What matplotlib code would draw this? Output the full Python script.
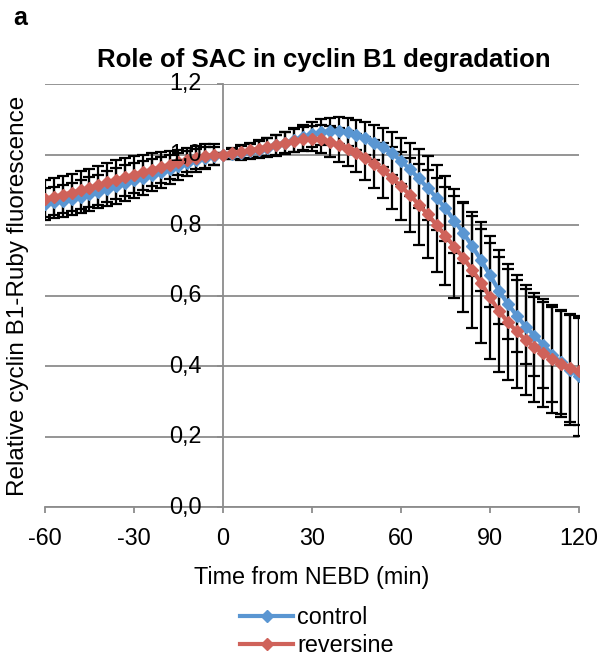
# -*- coding: utf-8 -*-
"""
Role of SAC in cyclin B1 degradation - relative cyclin B1-Ruby fluorescence.
"""
import matplotlib
matplotlib.use('Agg')
import matplotlib.pyplot as plt
import matplotlib.transforms as mtransforms

plt.rcParams['font.family'] = ['Liberation Sans', 'DejaVu Sans']

# time from NEBD (min), one point every 3 min
time_min = list(range(-60, 121, 3))

control = [
    0.860, 0.864, 0.868, 0.874, 0.880, 0.887, 0.895, 0.903, 0.911, 0.919,
    0.927, 0.934, 0.942, 0.950, 0.958, 0.966, 0.975, 0.983, 0.990, 0.996,
    1.000, 1.002, 1.005, 1.009, 1.014, 1.019, 1.026, 1.033, 1.041, 1.049,
    1.057, 1.063, 1.067, 1.067, 1.063, 1.056, 1.046, 1.034, 1.020, 1.003,
    0.982, 0.958, 0.932, 0.905, 0.877, 0.847, 0.812, 0.778, 0.740, 0.700,
    0.658, 0.614, 0.576, 0.543, 0.512, 0.485, 0.460, 0.432, 0.410, 0.390,
    0.372,
]
control_sd = [
    0.045, 0.045, 0.046, 0.046, 0.047, 0.048, 0.048, 0.049, 0.050, 0.050,
    0.049, 0.048, 0.046, 0.044, 0.041, 0.038, 0.036, 0.034, 0.032, 0.026,
    0.005, 0.015, 0.020, 0.022, 0.025, 0.027, 0.029, 0.031, 0.033, 0.035,
    0.036, 0.037, 0.037, 0.038, 0.040, 0.043, 0.047, 0.051, 0.055, 0.060,
    0.066, 0.075, 0.083, 0.090, 0.092, 0.093, 0.090, 0.087, 0.086, 0.088,
    0.092, 0.096, 0.099, 0.102, 0.106, 0.112, 0.122, 0.134, 0.146, 0.158,
    0.170,
]

reversine = [
    0.875, 0.880, 0.886, 0.892, 0.898, 0.905, 0.913, 0.921, 0.929, 0.936,
    0.943, 0.950, 0.957, 0.964, 0.971, 0.978, 0.985, 0.991, 0.996, 0.999,
    1.000, 1.003, 1.007, 1.012, 1.017, 1.022, 1.028, 1.034, 1.039, 1.043,
    1.045, 1.043, 1.036, 1.027, 1.016, 1.003, 0.989, 0.972, 0.955, 0.933,
    0.910, 0.885, 0.858, 0.830, 0.800, 0.769, 0.738, 0.707, 0.673, 0.636,
    0.595, 0.556, 0.525, 0.498, 0.474, 0.453, 0.436, 0.420, 0.406, 0.394,
    0.385,
]
reversine_sd = [
    0.052, 0.052, 0.053, 0.053, 0.054, 0.054, 0.055, 0.055, 0.055, 0.054,
    0.052, 0.050, 0.047, 0.044, 0.040, 0.036, 0.034, 0.033, 0.033, 0.030,
    0.005, 0.015, 0.020, 0.022, 0.024, 0.026, 0.028, 0.030, 0.032, 0.034,
    0.036, 0.040, 0.044, 0.047, 0.050, 0.054, 0.060, 0.068, 0.078, 0.088,
    0.096, 0.105, 0.115, 0.125, 0.132, 0.138, 0.145, 0.155, 0.165, 0.172,
    0.175, 0.172, 0.165, 0.160, 0.157, 0.155, 0.153, 0.152, 0.152, 0.152,
    0.152,
]

x_ticks = [-60, -30, 0, 30, 60, 90, 120]
y_ticks = [0.0, 0.2, 0.4, 0.6, 0.8, 1.0, 1.2]
y_tick_labels = ['0,0', '0,2', '0,4', '0,6', '0,8', '1,0', '1,2']

blue = '#5A96D2'
red = '#CF625A'
axis_grey = '#8C8C8C'
fs = 16.8

fig = plt.figure(figsize=(6.03, 6.64), dpi=100)
ax = fig.add_axes([0.0746, 0.2364, 0.8856, 0.6371])

# error bars first, then the lines on top
for vals, sd in [(control, control_sd), (reversine, reversine_sd)]:
    ax.errorbar(time_min, vals, yerr=sd, fmt='none', ecolor='black',
                elinewidth=1.6, capsize=4.2, capthick=1.6, zorder=2)
l1, = ax.plot(time_min, control, color=blue, lw=3.0, marker='D', ms=6.6,
              mec=blue, label='control', zorder=3)
l2, = ax.plot(time_min, reversine, color=red, lw=3.0, marker='D', ms=6.6,
              mec=red, label='reversine', zorder=4)

ax.set_xlim(-60, 120)
ax.set_ylim(0, 1.2)
ax.set_xticks(x_ticks)
ax.set_xticklabels([str(v) for v in x_ticks])
ax.set_yticks(y_ticks)
ax.set_yticklabels([])

# y axis crosses at x = 0, like the Excel chart
ax.spines['left'].set_position(('data', 0))
ax.spines['top'].set_visible(False)
ax.spines['right'].set_visible(False)
for side in ['left', 'bottom']:
    ax.spines[side].set_color(axis_grey)
    ax.spines[side].set_linewidth(1.3)
    ax.spines[side].set_zorder(1)

ax.yaxis.grid(True, color=axis_grey, lw=1.3, zorder=0)
ax.set_axisbelow(True)
ax.tick_params(axis='both', colors=axis_grey, labelcolor='black',
               labelsize=fs, width=1.3, length=4.5)
ax.tick_params(axis='x', pad=10)

# y tick labels sit over the data (Excel draws them on top)
lab_tr = mtransforms.offset_copy(ax.transData, fig=fig, x=-21, y=0,
                                 units='dots')
for v, s in zip(y_ticks, y_tick_labels):
    ax.text(0, v, s, transform=lab_tr, ha='right', va='center',
            fontsize=fs, zorder=6, clip_on=False)

fig.text(0.537, 0.899, 'Role of SAC in cyclin B1 degradation', ha='center',
         va='baseline', fontsize=18.5, fontweight='bold')
fig.text(0.022, 0.962, 'a', ha='left', va='baseline', fontsize=18,
         fontweight='bold')
fig.text(0.030, 0.555, 'Relative cyclin B1-Ruby fluorescence', rotation=90,
         ha='center', va='center', fontsize=17.5)
fig.text(0.517, 0.131, 'Time from NEBD (min)', ha='center', va='center',
         fontsize=fs)

fig.legend(handles=[l1, l2], loc='center', bbox_to_anchor=(0.525, 0.0485),
           frameon=False, fontsize=fs, handlelength=2.3, handletextpad=0.15,
           labelspacing=0.2, borderpad=0, borderaxespad=0)

fig.savefig('out.png', dpi=100)
